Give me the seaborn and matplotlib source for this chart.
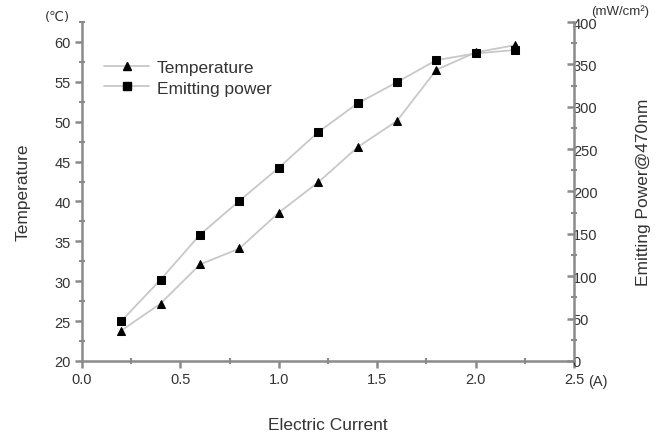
import numpy as np
import pandas as pd
import matplotlib
matplotlib.use("Agg")
import matplotlib.pyplot as plt
from matplotlib.ticker import MultipleLocator
from matplotlib.lines import Line2D
import seaborn as sns

current = [0.2, 0.4, 0.6, 0.8, 1.0, 1.2, 1.4, 1.6, 1.8, 2.0, 2.2]
temperature = [23.8, 27.2, 32.1, 34.1, 38.6, 42.4, 46.8, 50.1, 56.5, 58.7, 59.6]
power = [47, 96, 149, 189, 228, 270, 304, 329, 355, 363, 367]

sns.set_theme(style="white")
plt.rcParams['font.family'] = ['Liberation Sans', 'DejaVu Sans']

df = pd.DataFrame({"current": current, "temperature": temperature, "power": power})

fig = plt.figure(figsize=(6.6, 4.35), dpi=100)
ax = fig.add_axes([0.124, 0.168, 0.746, 0.779])
ax2 = ax.twinx()

line_c = "#c8c8c8"
axis_c = "#8a8a8a"
text_c = "#333333"

sns.lineplot(data=df, x="current", y="temperature", ax=ax, color=line_c, lw=1.3,
             marker="^", markersize=6, markerfacecolor="black", markeredgecolor="black")
sns.lineplot(data=df, x="current", y="power", ax=ax2, color=line_c, lw=1.3,
             marker="s", markersize=5.2, markerfacecolor="black", markeredgecolor="black")

ax.set_xlim(0, 2.5)
ax.set_ylim(20, 62.5)
ax2.set_ylim(0, 400)

ax.xaxis.set_major_locator(MultipleLocator(0.5))
ax.xaxis.set_minor_locator(MultipleLocator(0.25))
ax.yaxis.set_major_locator(MultipleLocator(5))
ax.yaxis.set_minor_locator(MultipleLocator(2.5))
ax2.yaxis.set_major_locator(MultipleLocator(50))
ax2.yaxis.set_minor_locator(MultipleLocator(25))
ax.set_xticks([0, 0.5, 1.0, 1.5, 2.0, 2.5])
ax.set_xticklabels(["0.0", "0.5", "1.0", "1.5", "2.0", "2.5"])

for a in (ax, ax2):
    for s in a.spines.values():
        s.set_color(axis_c)
        s.set_linewidth(1.8)
    a.spines['top'].set_visible(False)
ax.spines['right'].set_visible(False)
ax2.spines['left'].set_visible(False)
ax2.spines['bottom'].set_visible(False)

ax.tick_params(axis='both', which='major', direction='out', length=5, width=1.8,
               color=axis_c, labelsize=10.5, labelcolor=text_c, pad=3)
ax.tick_params(axis='both', which='minor', direction='inout', length=5, width=1.5,
               color=axis_c)
ax.tick_params(axis='x', which='both', bottom=True)
ax.tick_params(axis='y', which='both', left=True)
ax2.tick_params(axis='y', which='major', direction='in', length=5, width=1.8,
                color=axis_c, labelsize=10.5, labelcolor=text_c, pad=-1, right=True)
ax2.tick_params(axis='y', which='minor', direction='inout', length=5, width=1.5,
                color=axis_c, right=True)
for lbl in ax2.get_yticklabels():
    lbl.set_horizontalalignment('left')

ax.set_xlabel("Electric Current", fontsize=12.5, color=text_c, labelpad=22)
ax.set_ylabel("Temperature", fontsize=12.5, color=text_c, labelpad=17)
ax2.set_ylabel("Emitting Power@470nm", fontsize=12.5, color=text_c, labelpad=28)

fig.text(57 / 660, 1 - 18 / 435, "(℃)", fontsize=9.5, color=text_c, ha='center', va='center',
         family=['DejaVu Sans'])
fig.text(620 / 660, 1 - 12 / 435, "(mW/cm²)", fontsize=9.5, color=text_c, ha='center', va='center')
fig.text(598 / 660, 1 - 382 / 435, "(A)", fontsize=10.5, color=text_c, ha='center', va='center')

handles = [
    Line2D([], [], color=line_c, lw=1.3, marker="^", markersize=6,
           markerfacecolor="black", markeredgecolor="black"),
    Line2D([], [], color=line_c, lw=1.3, marker="s", markersize=5.2,
           markerfacecolor="black", markeredgecolor="black"),
]
leg = ax.legend(handles, ["Temperature", "Emitting power"], loc="upper left",
                bbox_to_anchor=(104 / 660, 1 - 61 / 435), bbox_transform=fig.transFigure,
                frameon=False, fontsize=12.5, handlelength=2.6, handletextpad=0.45,
                labelspacing=0.3, borderaxespad=0, borderpad=0)
for t in leg.get_texts():
    t.set_color(text_c)

fig.savefig("out.png", dpi=100)
